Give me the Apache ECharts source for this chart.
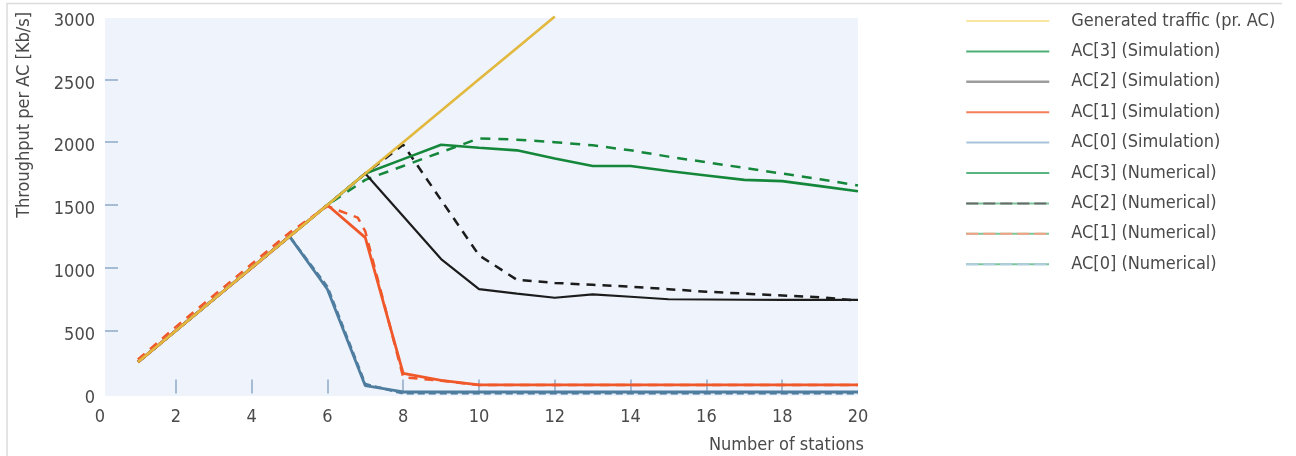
<!DOCTYPE html>
<html>
<head>
<meta charset="utf-8">
<script src="https://cdn.jsdelivr.net/npm/echarts@6/dist/echarts.min.js"></script>
<style>
  html, body { margin: 0; padding: 0; background: #ffffff; }
  #chart { width: 1296px; height: 456px; }
</style>
</head>
<body>
<div id="chart"></div>
<script>
// Number of stations on the x axis
const stations = [1, 2, 3, 4, 5, 6, 7, 8, 9, 10, 11, 12, 13, 14, 15, 16, 17, 18, 19, 20];

// Offered load per access category (Kb/s)
const generatedTraffic = [250, 500, 750, 1000, 1250, 1500, 1750, 2000, 2250, 2500, 2750, 3000];

// Simulation results (Kb/s)
const ac3Sim = [250, 500, 750, 1000, 1250, 1500, 1750, 1865, 1980, 1955, 1935, 1870, 1810, 1810, 1770, 1735, 1700, 1690, 1650, 1610];
const ac2Sim = [250, 500, 750, 1000, 1250, 1500, 1750, 1410, 1070, 830, 795, 762, 789, 770, 750, 748, 746, 745, 745, 745];
const ac1Sim = [250, 500, 750, 1000, 1250, 1500, 1240, 160, 105, 68, 68, 68, 68, 68, 68, 68, 68, 68, 68, 68];
const ac0Sim = [250, 500, 750, 1000, 1250, 830, 62, 12, 12, 12, 12, 12, 12, 12, 12, 12, 12, 12, 12, 12];

// Numerical model results (Kb/s)
const ac3Num = [250, 500, 750, 1000, 1250, 1500, 1700, 1810, 1920, 2030, 2020, 2000, 1975, 1935, 1885, 1840, 1795, 1750, 1705, 1655];
const ac2Num = [250, 500, 750, 1000, 1250, 1500, 1750, 1980, 1540, 1100, 905, 880, 865, 850, 830, 810, 795, 780, 765, 740];
const ac1NumStations = [1, 2, 3, 4, 5, 6, 6.8, 7, 8, 9, 10, 11, 12, 13, 14, 15, 16, 17, 18, 19, 20];
const ac1Num = [270, 530, 780, 1030, 1280, 1490, 1400, 1290, 130, 102, 68, 68, 68, 68, 68, 68, 68, 68, 68, 68, 68];
const ac0Num = [250, 500, 750, 1000, 1250, 850, 75, 0, 0, 0, 0, 0, 0, 0, 0, 0, 0, 0, 0, 0];

// Axis tick labels
const xTicks = [0, 2, 4, 6, 8, 10, 12, 14, 16, 18, 20];
const yTicks = [0, 500, 1000, 1500, 2000, 2500, 3000];

const FONT = "'Liberation Sans Narrow', 'DejaVu Sans Condensed', 'Noto Sans', sans-serif";
const TEXT = '#4a4a4a';
const TICK = '#8ea9c6';
const CLEAR = 'rgba(0,0,0,0)';

const pairs = (xs, ys) => ys.map((y, i) => [xs[i], y]);

const C = {
  yellow: '#e2b83e',
  green: '#15873a',
  black: '#1c1c1c',
  orange: '#f0582a',
  blue: '#4f7d9f'
};

const names = [
  'Generated traffic (pr. AC)',
  'AC[3] (Simulation)',
  'AC[2] (Simulation)',
  'AC[1] (Simulation)',
  'AC[0] (Simulation)',
  'AC[3] (Numerical)',
  'AC[2] (Numerical)',
  'AC[1] (Numerical)',
  'AC[0] (Numerical)'
];

// Faded legend swatches
const legendLines = {
  'Generated traffic (pr. AC)': { color: '#f8e7a0', width: 2, type: 'solid' },
  'AC[3] (Simulation)': { color: '#4cae77', width: 2, type: 'solid' },
  'AC[2] (Simulation)': { color: '#9c9c9c', width: 2.5, type: 'solid' },
  'AC[1] (Simulation)': { color: '#f47f5a', width: 2, type: 'solid' },
  'AC[0] (Simulation)': { color: '#a9c4dc', width: 2, type: 'solid' },
  'AC[3] (Numerical)': { color: '#58b582', width: 2, type: 'solid' },
  'AC[2] (Numerical)': { color: '#6a6a6a', width: 2, type: [12, 5] },
  'AC[1] (Numerical)': { color: '#f7a184', width: 2, type: [12, 5] },
  'AC[0] (Numerical)': { color: '#b2cce1', width: 2, type: [12, 5] }
};
const underlay = ['AC[2] (Numerical)', 'AC[1] (Numerical)', 'AC[0] (Numerical)'];
const noSymbol = { color: CLEAR, borderColor: CLEAR, borderWidth: 0, opacity: 0 };

const legendBase = {
  orient: 'vertical',
  left: 965,
  top: 11,
  padding: 0,
  itemWidth: 83,
  itemHeight: 14,
  itemGap: 10.4,
  selectedMode: false,
  textStyle: { fontFamily: FONT, fontSize: 18, color: TEXT, lineHeight: 20, padding: [0, 0, 0, 17] }
};

function line(name, data, color, width, type, z) {
  return {
    name, type: 'line', data, symbol: 'none', z: z || 2,
    lineStyle: { color, width, type: type || 'solid' },
    itemStyle: { color },
    emphasis: { disabled: true },
    animation: false
  };
}

const chart = echarts.init(document.getElementById('chart'), null, { renderer: 'canvas' });

chart.setOption({
  backgroundColor: '#ffffff',
  animation: false,
  grid: { left: 100, top: 16.5, width: 758, height: 377, outerBoundsMode: 'none' },
  xAxis: {
    type: 'value', min: 0, max: 20, interval: 2,
    axisLine: { show: false },
    splitLine: { show: false },
    axisTick: { show: true, inside: true, length: 14, lineStyle: { color: TICK, width: 1.5 }, customValues: xTicks.slice(1, -1) },
    axisLabel: { margin: 15, fontFamily: FONT, fontSize: 18, color: TEXT, customValues: xTicks, formatter: v => String(v) }
  },
  yAxis: {
    type: 'value', min: 0, max: 3000, interval: 500, offset: -5,
    axisLine: { show: false },
    splitLine: { show: false },
    axisTick: { show: true, inside: true, length: 13, lineStyle: { color: TICK, width: 1.5 }, customValues: yTicks.slice(1, -1) },
    axisLabel: { margin: 10, fontFamily: FONT, fontSize: 18, color: TEXT, verticalAlign: 'top', lineHeight: 9, customValues: yTicks, formatter: v => String(v) }
  },
  legend: [
    // green trace under the dashed numerical swatches
    Object.assign({}, legendBase, {
      z: 4,
      data: names.map(n => ({
        name: n,
        itemStyle: noSymbol,
        lineStyle: underlay.includes(n) ? { color: '#7cc59b', width: 2, type: 'solid' } : { color: CLEAR, width: 0 },
        textStyle: { color: CLEAR }
      }))
    }),
    Object.assign({}, legendBase, {
      z: 5,
      data: names.map(n => ({ name: n, itemStyle: noSymbol, lineStyle: legendLines[n] }))
    })
  ],
  graphic: [
    { type: 'rect', z: -10, silent: true, shape: { x: 105, y: 18, width: 753, height: 378 }, style: { fill: '#eef3fc' } },
    { type: 'polyline', silent: true, shape: { points: [[7, 456], [7, 3.5], [1282, 3.5]] }, style: { stroke: '#dcdcdc', lineWidth: 1.5, fill: null } },
    { type: 'text', silent: true, x: 24, y: 12, rotation: Math.PI / 2,
      style: { text: 'Throughput per AC [Kb/s]', fontFamily: FONT, fontSize: 18, fill: TEXT, align: 'right', verticalAlign: 'middle' } },
    { type: 'text', silent: true, x: 864, y: 445,
      style: { text: 'Number of stations', fontFamily: FONT, fontSize: 18, fill: TEXT, align: 'right', verticalAlign: 'middle' } }
  ],
  series: [
    line('AC[2] (Numerical)', pairs(stations, ac2Num), C.black, 2.5, [9, 7]),
    line('AC[3] (Numerical)', pairs(stations, ac3Num), C.green, 2.5, [10, 8]),
    line('AC[2] (Simulation)', pairs(stations, ac2Sim), C.black, 2.2),
    line('AC[3] (Simulation)', pairs(stations, ac3Sim), C.green, 2.6),
    line('AC[0] (Numerical)', pairs(stations, ac0Num), C.blue, 2.5, [7, 4]),
    line('AC[0] (Simulation)', pairs(stations, ac0Sim), C.blue, 2.8),
    line('AC[1] (Numerical)', pairs(ac1NumStations, ac1Num), C.orange, 2.5, [9, 7]),
    line('AC[1] (Simulation)', pairs(stations, ac1Sim), C.orange, 2.8),
    line('Generated traffic (pr. AC)', pairs(stations, generatedTraffic), C.yellow, 2.6, 'solid', 3)
  ]
});
</script>
</body>
</html>
